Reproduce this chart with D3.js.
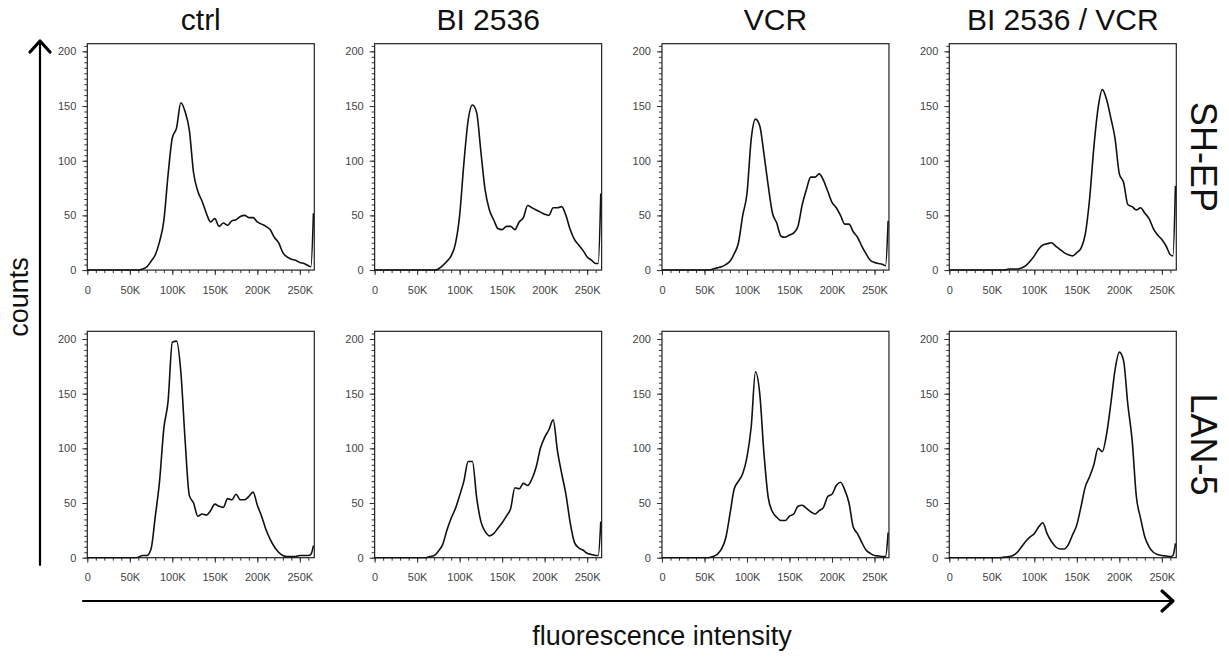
<!DOCTYPE html>
<html>
<head>
<meta charset="utf-8">
<script src="https://cdn.jsdelivr.net/npm/d3@7"></script>
<style>
body { margin: 0; background: #fff; }
text { font-family: "Liberation Sans", Arial, sans-serif; }
</style>
</head>
<body>
<svg id="chart" width="1229" height="657"></svg>
<script>
'use strict'

var columns = ['ctrl', 'BI 2536', 'VCR', 'BI 2536 / VCR'];
var rows = ['SH-EP', 'LAN-5'];

// fluorescence channel, in K
var intensity = [0, 50, 55, 60, 65, 70, 75, 80, 85, 90, 95, 100, 105, 110, 115, 120, 125, 130, 135, 140,
  145, 150, 155, 160, 165, 170, 175, 180, 185, 190, 195, 200, 205, 210, 215, 220, 225, 230, 235, 240,
  245, 250, 255, 260, 263, 266];

var shepCtrl = [0, 0, 0, 0, 1, 3, 8, 14, 26, 45, 87, 121, 130, 153, 145, 128, 89, 72, 63, 52,
  44, 47, 40, 43, 41, 45, 46, 49, 50, 48, 48, 44, 42, 40, 37, 30, 25, 16, 12, 10,
  9, 7, 6, 4, 3, 52];
var shepBI = [0, 0, 0, 0, 0, 0, 1, 4, 8, 13, 24, 50, 98, 137, 151, 144, 108, 73, 55, 46,
  38, 37, 40, 40, 37, 44, 48, 59, 57, 55, 53, 51, 50, 57, 57, 58, 50, 37, 28, 23,
  18, 12, 9, 6, 6, 70];
var shepVCR = [0, 0, 0, 1, 2, 3, 5, 8, 15, 25, 50, 70, 120, 138, 132, 106, 77, 52, 43, 31,
  30, 32, 34, 40, 60, 74, 85, 85, 88, 82, 72, 62, 57, 50, 42, 42, 35, 30, 22, 15,
  9, 7, 6, 5, 4, 45];
var shepCombo = [0, 0, 0, 0, 0, 1, 1, 1, 2, 4, 8, 13, 19, 23, 24, 25, 22, 19, 16, 14,
  13, 16, 20, 33, 65, 112, 148, 165, 156, 139, 120, 88, 80, 60, 58, 55, 57, 52, 47, 38,
  32, 28, 22, 14, 13, 77];

var lanCtrl = [0, 0, 0, 0.5, 2, 2, 8, 38, 70, 118, 143, 197, 198, 170, 108, 57, 50, 38, 40, 39,
  43, 49, 47, 46, 54, 53, 58, 53, 53, 56, 60, 48, 38, 26, 17, 10, 5, 2, 1, 1,
  1, 2, 2, 2, 3, 11];
var lanBI = [0, 0, 0, 0, 1, 2, 6, 12, 25, 36, 45, 57, 70, 88, 88, 55, 33, 24, 20, 22,
  27, 32, 38, 45, 64, 63, 68, 66, 72, 83, 100, 110, 117, 126, 98, 77, 58, 32, 14, 9,
  7, 4, 3, 2, 2, 33];
var lanVCR = [0, 0, 0, 1, 3, 8, 18, 40, 63, 70, 77, 92, 120, 170, 150, 95, 55, 42, 37, 34,
  34, 38, 40, 47, 48, 45, 42, 40, 43, 46, 56, 58, 66, 69, 62, 50, 28, 22, 14, 7,
  4, 2, 1.5, 1, 1, 23];
var lanCombo = [0, 0, 0, 0, 0.5, 1, 2, 5, 10, 15, 19, 22, 28, 32, 22, 15, 10, 8, 8, 12,
  21, 30, 47, 65, 74, 85, 100, 97, 113, 141, 172, 188, 180, 140, 108, 56, 36, 19, 10, 5,
  3, 2, 1.5, 1, 2, 13];

var histograms = [
  [shepCtrl, shepBI, shepVCR, shepCombo],
  [lanCtrl, lanBI, lanVCR, lanCombo]
];

var xMajor = [0, 50000, 100000, 150000, 200000, 250000];
var yMajor = [0, 50, 100, 150, 200];

var svg = d3.select('#chart');

var col = d3.scaleBand().domain(columns).range([87.3, 1176.3]).paddingInner(0.21);
var row = d3.scaleBand().domain(rows).range([43.7, 557.7]).paddingInner(0.213);
var pw = col.bandwidth(), ph = row.bandwidth();

var x = d3.scaleLinear().domain([0, 267000]).range([0, pw]);
var y = d3.scaleLinear().domain([0, 207]).range([ph, 0]);

var line = d3.line()
  .x(function(d){ return x(d[0] * 1000); })
  .y(function(d){ return y(d[1]); })
  .curve(d3.curveMonotoneX);

svg.append('defs').append('clipPath')
  .attr('id', 'plotclip')
  .append('rect')
  .attr('width', pw)
  .attr('height', ph + 1);

rows.forEach(function(r, ri){
  columns.forEach(function(c, ci){
    var g = svg.append('g')
      .attr('transform', 'translate(' + col(c) + ',' + row(r) + ')');

    // minor ticks
    g.append('g')
      .attr('transform', 'translate(0,' + ph + ')')
      .call(d3.axisBottom(x).tickValues(d3.range(0, 262000, 10000)).tickSize(3).tickFormat(''))
      .call(function(a){ a.select('.domain').remove(); });
    g.append('g')
      .call(d3.axisLeft(y).tickValues(d3.range(0, 206, 5)).tickSize(3).tickFormat(''))
      .call(function(a){ a.select('.domain').remove(); });

    var xa = g.append('g')
      .attr('transform', 'translate(0,' + ph + ')')
      .call(d3.axisBottom(x).tickValues(xMajor).tickSize(5).tickPadding(11)
        .tickFormat(function(d){ return d === 0 ? '0' : (d / 1000) + 'K'; }));
    var ya = g.append('g')
      .call(d3.axisLeft(y).tickValues(yMajor).tickSize(5).tickPadding(6));

    [xa, ya].forEach(function(a){
      a.select('.domain').remove();
      a.selectAll('text')
        .attr('fill', '#444')
        .style('font-size', '11px')
        .style('font-family', '"Liberation Sans", Arial, sans-serif');
    });
    g.selectAll('.tick line').attr('stroke', '#333');

    g.append('rect')
      .attr('width', pw)
      .attr('height', ph)
      .attr('fill', 'none')
      .attr('stroke', '#222')
      .attr('stroke-width', 1.2);

    var pts = intensity.map(function(v, i){ return [v, histograms[ri][ci][i]]; });
    g.append('path')
      .datum(pts)
      .attr('clip-path', 'url(#plotclip)')
      .attr('d', line)
      .attr('fill', 'none')
      .attr('stroke', '#111')
      .attr('stroke-width', 1.6)
      .attr('stroke-linejoin', 'round');
  });
});

// column titles
svg.selectAll('text.coltitle')
  .data(columns)
  .enter()
  .append('text')
  .attr('class', 'coltitle')
  .attr('x', function(d){ return col(d) + pw / 2; })
  .attr('y', 30)
  .attr('text-anchor', 'middle')
  .style('font-size', '30px')
  .attr('fill', '#111')
  .text(function(d){ return d; });

// row titles
svg.selectAll('text.rowtitle')
  .data(rows)
  .enter()
  .append('text')
  .attr('class', 'rowtitle')
  .attr('transform', function(d){
    return 'translate(1203,' + (row(d) + ph / 2) + ') rotate(90)';
  })
  .attr('text-anchor', 'middle')
  .attr('dominant-baseline', 'central')
  .style('font-size', '36px')
  .attr('fill', '#111')
  .text(function(d){ return d; });

// axis arrows
var arrows = svg.append('g')
  .attr('stroke', '#000')
  .attr('fill', 'none')
  .attr('stroke-linecap', 'round')
  .attr('stroke-linejoin', 'round');

arrows.append('line')
  .attr('x1', 40).attr('y1', 565)
  .attr('x2', 40).attr('y2', 42)
  .attr('stroke-width', 2.2);
arrows.append('path')
  .attr('d', 'M30,52 L40,41 L50,52')
  .attr('stroke-width', 3.2);

arrows.append('line')
  .attr('x1', 83).attr('y1', 601)
  .attr('x2', 1172).attr('y2', 601)
  .attr('stroke-width', 2.2);
arrows.append('path')
  .attr('d', 'M1162,591 L1173,601 L1162,611')
  .attr('stroke-width', 3.2);

svg.append('text')
  .attr('transform', 'translate(28,297) rotate(-90)')
  .attr('text-anchor', 'middle')
  .style('font-size', '27px')
  .attr('fill', '#111')
  .text('counts');

svg.append('text')
  .attr('x', 662)
  .attr('y', 645)
  .attr('text-anchor', 'middle')
  .style('font-size', '27px')
  .attr('fill', '#111')
  .text('fluorescence intensity');
</script>
</body>
</html>
